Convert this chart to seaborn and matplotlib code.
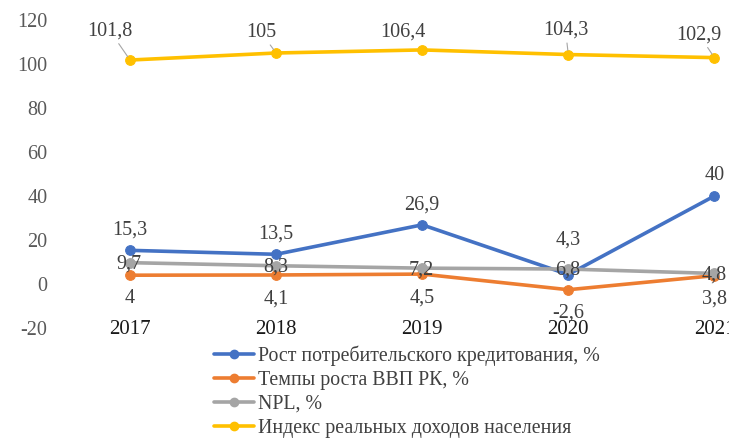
import matplotlib
matplotlib.use("Agg")
import matplotlib.pyplot as plt
import seaborn as sns
import pandas as pd
from matplotlib.lines import Line2D

years = ["2017", "2018", "2019", "2020", "2021"]
credit_growth = [15.3, 13.5, 26.9, 4.3, 40]
gdp_growth = [4, 4.1, 4.5, -2.6, 3.8]
npl = [9.7, 8.3, 7.2, 6.8, 4.8]
income_index = [101.8, 105, 106.4, 104.3, 102.9]
series_names = ["Рост потребительского кредитования, %", "Темпы роста ВВП РК, %",
                "NPL, %", "Индекс реальных доходов населения"]
colors = ["#4472C4", "#ED7D31", "#A5A5A5", "#FFC000"]
yticks = [-20, 0, 20, 40, 60, 80, 100, 120]

sns.set_theme(style="white")
plt.rcParams["font.family"] = ["Liberation Serif", "DejaVu Serif"]

rows = []
for name, vals in zip(series_names, [credit_growth, gdp_growth, npl, income_index]):
    for yr, v in zip(years, vals):
        rows.append({"year": yr, "value": v, "series": name})
df = pd.DataFrame(rows)

fig = plt.figure(figsize=(7.29, 4.38), dpi=100)
ax = fig.add_axes([57 / 729, 1 - 328 / 438, 672 / 729, 308 / 438])

for name, col in zip(series_names, colors):
    sub = df[df["series"] == name]
    sns.lineplot(data=sub, x="year", y="value", color=col, lw=2.6, marker="o",
                 markersize=7, markeredgecolor=col, ax=ax, legend=False, sort=False)

ax.set_ylim(-20, 120)
ax.set_xlim(-0.5, 4.1)
ax.set_yticks(yticks)
ax.set_yticklabels([str(t) for t in yticks], fontsize=14.5, color="#595959")
for s in ax.spines.values():
    s.set_visible(False)
ax.tick_params(axis="y", length=0, pad=7)
ax.set_xlabel("")
ax.set_ylabel("")
ax.set_xticks([])

# category labels, level with the bottom tick
for i, yr in enumerate(years):
    ax.annotate(yr, (i, -20), xytext=(0, -1), textcoords="offset points",
                ha="center", va="center", fontsize=15, color="#1a1a1a",
                annotation_clip=False)

def fmt(v):
    return str(v).replace(".", ",")

lab = dict(fontsize=14.5, color="#404040", textcoords="offset points",
           ha="center", va="center", annotation_clip=False)
credit_off = [14.5, 14.5, 14.5, 24.5, 15]
for i, v in enumerate(credit_growth):
    ax.annotate(fmt(v), (i, v), xytext=(0, credit_off[i]), **lab)
for i, v in enumerate(gdp_growth):
    ax.annotate(fmt(v), (i, v), xytext=(0, -17), **lab)
for i, v in enumerate(npl):
    ax.annotate(fmt(v), (i, v), xytext=(-0.5, -1), **lab)
inc_off = [(-14.5, 21), (-11, 15), (-14, 13), (-2, 17.5), (-11, 16.5)]
for i, v in enumerate(income_index):
    arrow = None
    if i != 2:
        arrow = dict(arrowstyle="-", color="#A5A5A5", lw=0.8, shrinkA=0, shrinkB=3)
    ax.annotate(fmt(v), (i, v), xytext=inc_off[i], arrowprops=arrow, **lab)

handles = [Line2D([0], [0], color=c, lw=2.6, marker="o", markersize=6) for c in colors]
fig.legend(handles, series_names, loc="upper left", bbox_to_anchor=(214 / 729, 1 - 345 / 438),
           frameon=False, fontsize=14.3, handlelength=2.0, handletextpad=0.2,
           labelspacing=0.26, borderaxespad=0, borderpad=0, labelcolor="#404040")

fig.savefig("out.png", dpi=100)
